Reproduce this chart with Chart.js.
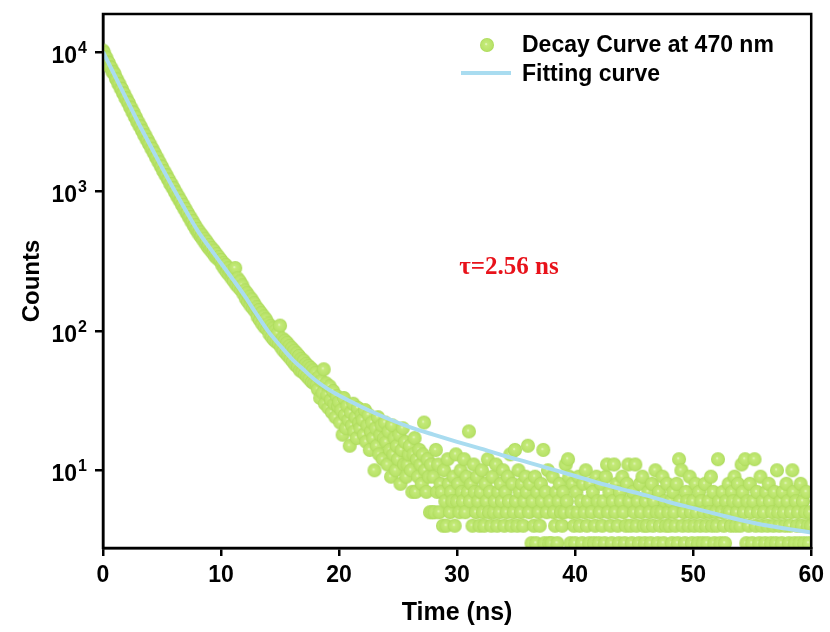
<!DOCTYPE html>
<html>
<head>
<meta charset="utf-8">
<script src="https://cdn.jsdelivr.net/npm/chart.js@4.4.0/dist/chart.umd.min.js"></script>
<style>
  html, body { margin: 0; padding: 0; background: #fff; }
  #wrap { width: 830px; height: 632px; }
</style>
</head>
<body>
<div id="wrap"><canvas id="decayChart" width="830" height="632"></canvas></div>
<script>
// Decay curve, one reading every 0.1 ns (0 .. 60 ns)
const timeStep = 0.1;
const decayCounts = [
  10240, 9850, 9180, 9010, 8430, 8310, 7780, 7690, 7210, 7120,
  6880, 6420, 6330, 5920, 5860, 5470, 5420, 5060, 5010, 4680,
  4620, 4350, 4290, 4010, 3950, 3700, 3660, 3420, 3390, 3160,
  3130, 2940, 2910, 2730, 2700, 2530, 2510, 2350, 2330, 2190,
  2170, 2030, 2010, 1890, 1870, 1750, 1740, 1630, 1610, 1510,
  1500, 1400, 1390, 1310, 1300, 1220, 1210, 1130, 1130, 1060,
  1050, 985, 980, 918, 915, 858, 856, 798, 800, 745,
  746, 696, 697, 650, 654, 606, 612, 566, 573, 530,
  538, 498, 508, 472, 484, 446, 458, 421, 436, 398,
  412, 380, 392, 361, 376, 342, 356, 330, 338, 318,
  322, 295, 306, 278, 296, 263, 281, 252, 268, 238,
  251, 226, 282, 214, 238, 205, 226, 196, 212, 184,
  195, 170, 186, 161, 176, 152, 168, 145, 158, 138,
  148, 126, 141, 119, 134, 112, 127, 106, 121, 103,
  113, 95, 108, 90, 104, 86, 100, 83, 96, 81,
  109, 76, 88, 72, 85, 69, 82, 66, 78, 63,
  75, 60, 72, 57, 69, 55, 66, 52, 63, 51,
  61, 49, 58, 47, 56, 45, 54, 43, 52, 42,
  50, 41, 38, 47, 33, 44, 36, 53, 30, 42,
  35, 28, 40, 32, 26, 37, 30, 24, 34, 29,
  31, 22, 27, 18, 33, 25, 20, 29, 23, 15,
  26, 21, 30, 19, 24, 17, 28, 22, 20, 25,
  23, 18, 27, 16, 21, 25, 14, 19, 22, 17,
  10, 20, 15, 24, 13, 18, 21, 12, 17, 22,
  16, 11, 19, 14, 9, 21, 13, 17, 10, 15,
  12, 18, 8, 14, 20, 11, 16, 9, 11, 13,
  15, 10, 7, 13, 17, 7, 12, 9, 14, 11,
  8, 13, 22, 10, 7, 12, 9, 5, 11, 5,
  9, 5, 14, 7, 11, 5, 8, 7, 4, 10,
  6, 4, 12, 8, 5, 7, 6, 9, 4, 13,
  6, 8, 5, 10, 7, 6, 12, 5, 9, 7,
  19, 6, 8, 4, 11, 7, 5, 9, 6, 4,
  7, 10, 5, 4, 8, 6, 12, 5, 7, 4,
  9, 5, 6, 11, 4, 7, 5, 8, 6, 10,
  4, 7, 5, 9, 6, 13, 4, 8, 5, 14,
  6, 4, 10, 7, 5, 8, 4, 6, 9, 7,
  15, 5, 8, 3, 6, 4, 9, 3, 7, 5,
  4, 8, 6, 14, 3, 7, 5, 10, 3, 6,
  3, 9, 5, 4, 7, 3, 6, 8, 5, 4,
  7, 5, 11, 6, 12, 9, 3, 5, 8, 4,
  3, 7, 5, 9, 4, 6, 3, 8, 5, 10,
  4, 6, 3, 8, 5, 7, 3, 4, 9, 6,
  3, 5, 8, 4, 6, 3, 9, 11, 5, 7,
  4, 3, 6, 11, 5, 8, 4, 3, 7, 6,
  9, 5, 3, 4, 8, 11, 6, 4, 3, 7,
  5, 11, 4, 6, 3, 8, 5, 9, 4, 3,
  6, 4, 7, 5, 3, 8, 4, 6, 10, 5,
  3, 7, 4, 5, 9, 3, 6, 4, 8, 5,
  4, 6, 3, 7, 5, 4, 8, 3, 12, 6,
  10, 4, 5, 3, 7, 6, 4, 9, 5, 3,
  6, 4, 8, 5, 3, 7, 4, 6, 3, 5,
  8, 4, 3, 6, 5, 9, 4, 7, 3, 5,
  4, 12, 6, 3, 5, 7, 4, 3, 6, 5,
  8, 5, 4, 7, 6, 9, 4, 5, 8, 6,
  4, 11, 7, 5, 12, 3, 6, 4, 8, 5,
  3, 6, 12, 4, 7, 5, 3, 9, 4, 6,
  5, 3, 7, 4, 8, 6, 3, 5, 4, 7,
  3, 10, 5, 4, 6, 3, 7, 5, 4, 8,
  6, 3, 4, 5, 10, 7, 3, 6, 4, 5,
  3, 8, 4, 6, 3, 5, 7, 4, 3, 5,
  4
];

// Fitting curve
const fitTimes = [0, 1, 2, 3, 4, 5, 6, 7, 8, 9, 10, 11, 12, 13, 14, 15, 16, 17, 18, 19, 20,
  22, 24, 26, 28, 30, 32, 34, 36, 38, 40, 42, 44, 46, 48, 50, 52, 54, 56, 58, 60];
const fitCounts = [10000, 6760, 4570, 3090, 2140, 1480, 1035, 733, 525, 398, 305, 234, 178, 132, 99, 78.5, 63, 52.5, 44.2, 38.5, 34.3,
  28.2, 23.7, 20.4, 18.0, 16.0, 14.3, 12.7, 11.4, 10.2, 9.1, 8.1, 7.3, 6.6, 5.9, 5.35, 4.85, 4.4, 4.05, 3.8, 3.58];

// Axes
const xTicks = [0, 10, 20, 30, 40, 50, 60];
const yTickPowers = [1, 2, 3, 4];

const decayLabel = "Decay Curve at 470 nm";
const fitLabel = "Fitting curve";
const tauText = "τ=2.56 ns";

const sansFont = "'Liberation Sans', Arial, sans-serif";
const fitColor = "#a9dcf0";

// shaded ball used as point marker
function makeBall(r) {
  const c = document.createElement("canvas");
  c.width = c.height = r * 2 + 2;
  const g = c.getContext("2d");
  const m = r + 1;
  const grad = g.createRadialGradient(m - 1, m - 1, 0, m, m, r);
  grad.addColorStop(0, "#eef9d8");
  grad.addColorStop(0.22, "#c4ea78");
  grad.addColorStop(0.8, "#b9e36a");
  grad.addColorStop(1, "#aad956");
  g.fillStyle = grad;
  g.beginPath();
  g.arc(m, m, r, 0, Math.PI * 2);
  g.fill();
  return c;
}
const ball = makeBall(7);

const decayPoints = decayCounts.map((c, i) => ({ x: +(i * timeStep).toFixed(1), y: c }));
const fitPoints = fitTimes.map((t, i) => ({ x: t, y: fitCounts[i] }));

// frame, y labels, legend and tau note
const decorPlugin = {
  id: "decor",
  afterDraw(chart) {
    const { ctx, chartArea: a, scales } = chart;
    ctx.save();
    ctx.strokeStyle = "#000";
    ctx.lineWidth = 2.5;
    ctx.strokeRect(a.left, a.top, a.right - a.left, a.bottom - a.top);

    // y tick labels 10^n
    ctx.fillStyle = "#000";
    ctx.textBaseline = "alphabetic";
    ctx.textAlign = "right";
    yTickPowers.forEach((p) => {
      const y = scales.y.getPixelForValue(Math.pow(10, p));
      ctx.font = "bold 16px " + sansFont;
      const ew = ctx.measureText(String(p)).width;
      ctx.fillText(String(p), 87, y + 1);
      ctx.font = "bold 23px " + sansFont;
      ctx.fillText("10", 86 - ew, y + 11);
    });

    // legend
    ctx.drawImage(ball, 487 - 8, 45 - 8);
    ctx.strokeStyle = fitColor;
    ctx.lineWidth = 4;
    ctx.beginPath();
    ctx.moveTo(461, 73);
    ctx.lineTo(511, 73);
    ctx.stroke();
    ctx.font = "bold 23px " + sansFont;
    ctx.textAlign = "left";
    ctx.textBaseline = "middle";
    ctx.fillText(decayLabel, 522, 46);
    ctx.fillText(fitLabel, 522, 75);

    // lifetime note
    ctx.fillStyle = "#e8121a";
    ctx.font = "bold 25px 'Liberation Serif', 'Times New Roman', serif";
    ctx.textAlign = "center";
    ctx.fillText(tauText, 509, 268);
    ctx.restore();
  },
};

const config = {
  type: "scatter",
  data: {
    datasets: [
      {
        label: fitLabel,
        type: "line",
        data: fitPoints,
        borderColor: fitColor,
        borderWidth: 4,
        pointRadius: 0,
        cubicInterpolationMode: "monotone",
        order: 0,
        clip: 0,
      },
      {
        label: decayLabel,
        data: decayPoints,
        pointStyle: ball,
        pointRadius: 7,
        order: 1,
        clip: 0,
      },
    ],
  },
  options: {
    responsive: false,
    animation: false,
    layout: { padding: { left: 0, right: 18, top: 14, bottom: 0 } },
    plugins: {
      legend: { display: false },
      tooltip: { enabled: false },
    },
    scales: {
      x: {
        type: "linear",
        min: 0,
        max: 60,
        afterBuildTicks: (s) => { s.ticks = xTicks.map((v) => ({ value: v })); },
        afterFit: (s) => { s.height = 84; },
        border: { display: true, color: "#000", width: 2.5 },
        grid: { display: true, drawOnChartArea: false, drawTicks: true, tickLength: 8, color: "#000", lineWidth: 2.5 },
        ticks: { color: "#000", padding: 6, maxRotation: 0, font: { family: sansFont, weight: "bold", size: 23 } },
        title: { display: true, text: "Time (ns)", color: "#000", padding: { top: 0, bottom: 4 }, font: { family: sansFont, weight: "bold", size: 25 } },
      },
      y: {
        type: "logarithmic",
        min: 2.77,
        max: 18700,
        afterBuildTicks: (s) => { s.ticks = yTickPowers.map((p) => ({ value: Math.pow(10, p) })); },
        afterFit: (s) => { s.width = 103; },
        border: { display: true, color: "#000", width: 2.5 },
        grid: { display: true, drawOnChartArea: false, drawTicks: true, tickLength: 8, color: "#000", lineWidth: 2.5 },
        ticks: { display: false },
        title: { display: true, text: "Counts", color: "#000", padding: { top: 18, bottom: 0 }, font: { family: sansFont, weight: "bold", size: 24 } },
      },
    },
  },
  plugins: [decorPlugin],
};

const decayChart = new Chart(document.getElementById("decayChart"), config);
</script>
</body>
</html>
